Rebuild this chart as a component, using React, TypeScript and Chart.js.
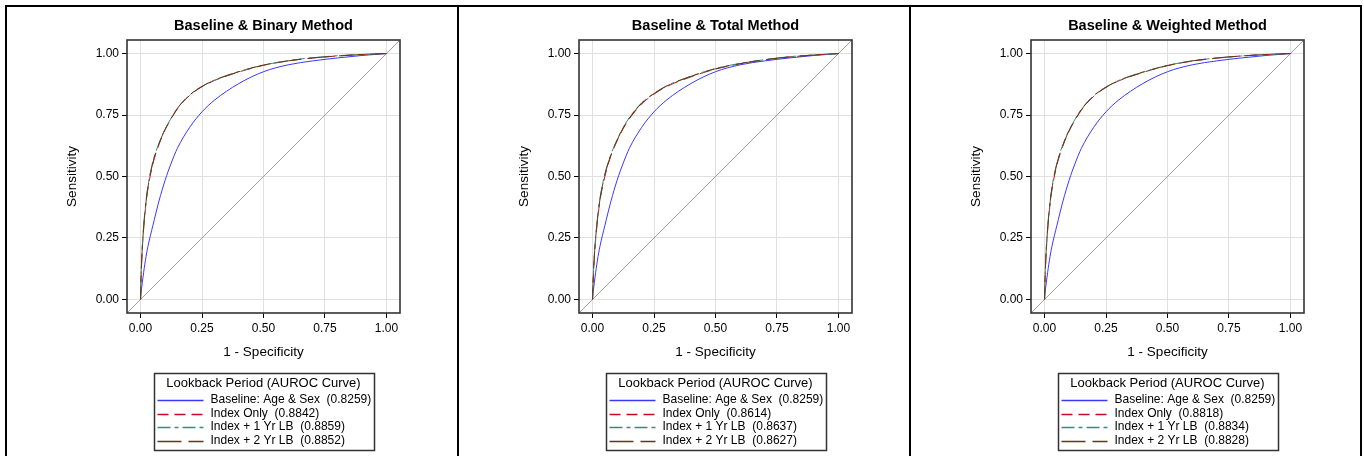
import React, { useEffect, useRef } from "react";
import { Chart, registerables } from "chart.js";

Chart.register(...registerables);

// ---------------- data ----------------
const FPR = [0, 0.002, 0.005, 0.01, 0.02, 0.03, 0.05, 0.075, 0.1, 0.125, 0.15, 0.2, 0.25, 0.3, 0.4, 0.5, 0.6, 0.7, 0.8, 0.9, 1];

const BASELINE_TPR = [0, 0.025, 0.05, 0.09, 0.16, 0.215, 0.3, 0.4, 0.485, 0.555, 0.615, 0.7, 0.763, 0.81, 0.878, 0.926, 0.954, 0.97, 0.982, 0.992, 1];

const BINARY_INDEX = [0, 0.08, 0.16, 0.25, 0.37, 0.45, 0.55, 0.63, 0.69, 0.735, 0.775, 0.83, 0.865, 0.89, 0.925, 0.952, 0.97, 0.982, 0.99, 0.996, 1];
const BINARY_1YR = [0, 0.09, 0.17, 0.26, 0.38, 0.46, 0.56, 0.635, 0.693, 0.738, 0.778, 0.832, 0.867, 0.892, 0.927, 0.953, 0.971, 0.983, 0.991, 0.996, 1];
const BINARY_2YR = [0, 0.085, 0.165, 0.255, 0.375, 0.455, 0.555, 0.633, 0.692, 0.737, 0.777, 0.831, 0.866, 0.891, 0.926, 0.953, 0.97, 0.982, 0.99, 0.996, 1];

const TOTAL_INDEX = [0, 0.06, 0.13, 0.21, 0.32, 0.4, 0.5, 0.585, 0.645, 0.695, 0.735, 0.795, 0.835, 0.865, 0.905, 0.937, 0.958, 0.974, 0.986, 0.994, 1];
const TOTAL_1YR = [0, 0.07, 0.14, 0.22, 0.33, 0.41, 0.51, 0.59, 0.65, 0.7, 0.74, 0.8, 0.838, 0.868, 0.908, 0.939, 0.96, 0.975, 0.987, 0.994, 1];
const TOTAL_2YR = [0, 0.065, 0.135, 0.215, 0.325, 0.405, 0.505, 0.588, 0.648, 0.698, 0.738, 0.798, 0.837, 0.867, 0.907, 0.938, 0.959, 0.975, 0.986, 0.994, 1];

const WEIGHTED_INDEX = [0, 0.08, 0.155, 0.245, 0.365, 0.445, 0.545, 0.625, 0.685, 0.73, 0.77, 0.826, 0.862, 0.888, 0.923, 0.951, 0.969, 0.981, 0.99, 0.996, 1];
const WEIGHTED_1YR = [0, 0.085, 0.165, 0.255, 0.375, 0.455, 0.553, 0.63, 0.689, 0.734, 0.774, 0.829, 0.864, 0.89, 0.925, 0.952, 0.97, 0.982, 0.99, 0.996, 1];
const WEIGHTED_2YR = [0, 0.082, 0.16, 0.25, 0.37, 0.45, 0.55, 0.628, 0.687, 0.732, 0.772, 0.828, 0.863, 0.889, 0.924, 0.951, 0.97, 0.982, 0.99, 0.996, 1];

const SERIES_NAMES = ["Baseline: Age & Sex", "Index Only", "Index + 1 Yr LB", "Index + 2 Yr LB"];
const BINARY_AUC = [0.8259, 0.8842, 0.8859, 0.8852];
const TOTAL_AUC = [0.8259, 0.8614, 0.8637, 0.8627];
const WEIGHTED_AUC = [0.8259, 0.8818, 0.8834, 0.8828];

const PANEL_TITLES = ["Baseline & Binary Method", "Baseline & Total Method", "Baseline & Weighted Method"];
const TICK_VALUES = [0, 0.25, 0.5, 0.75, 1];
const AXIS_MIN = -0.055;
const AXIS_MAX = 1.055;
const DIAGONAL = [AXIS_MIN, AXIS_MAX];
const LEGEND_TITLE = "Lookback Period (AUROC Curve)";
const X_TITLE = "1 - Specificity";
const Y_TITLE = "Sensitivity";

// ---------------- styles ----------------
const SERIES_STYLES = [
  { color: "#3838ff", dash: [] as number[] },
  { color: "#cc0a1e", dash: [11, 6] },
  { color: "#2f8f7c", dash: [13, 4, 4, 4] },
  { color: "#5e3b12", dash: [24, 7] },
];
const FONT = '"Liberation Sans", Arial, Helvetica, sans-serif';

const CANVAS_W = 452;
const CANVAS_H = 450;

function Panel({ title, curves, aucs, left }: { title: string; curves: number[][]; aucs: number[]; left: number }) {
  const ref = useRef<HTMLCanvasElement | null>(null);
  useEffect(() => {
    if (!ref.current) return;
    const datasets: any[] = curves.map((tpr, i) => ({
      label: `${SERIES_NAMES[i]}  (${aucs[i].toFixed(4)})`,
      data: FPR.map((x, j) => ({ x, y: tpr[j] })),
      borderColor: SERIES_STYLES[i].color,
      borderDash: SERIES_STYLES[i].dash,
      borderWidth: 1,
      pointRadius: 0,
      fill: false,
      cubicInterpolationMode: "monotone",
      order: 10 - i,
    }));
    datasets.push({
      label: "diag",
      data: DIAGONAL.map((v) => ({ x: v, y: v })),
      borderColor: "#a0a0a0",
      borderWidth: 1,
      pointRadius: 0,
      fill: false,
      order: 20,
    });

    const decor = {
      id: "decor",
      afterDraw(chart: any) {
        const { ctx, chartArea: a } = chart;
        ctx.save();
        // frame
        ctx.setLineDash([]);
        ctx.strokeStyle = "#333";
        ctx.lineWidth = 1.6;
        ctx.strokeRect(a.left, a.top, a.right - a.left, a.bottom - a.top);
        // title
        const cx = (a.left + a.right) / 2;
        ctx.fillStyle = "#000";
        ctx.font = `bold 14.5px ${FONT}`;
        ctx.textAlign = "center";
        ctx.textBaseline = "middle";
        ctx.fillText(title, cx, a.top - 14.3);
        // legend box
        const bw = 220;
        const bh = 77;
        const bx = Math.round(cx - bw / 2) + 0.5;
        const by = Math.round(a.bottom + 60) + 0.5;
        ctx.fillStyle = "#fff";
        ctx.fillRect(bx, by, bw, bh);
        ctx.strokeStyle = "#333";
        ctx.lineWidth = 1.5;
        ctx.strokeRect(bx, by, bw, bh);
        ctx.fillStyle = "#000";
        ctx.font = `13px ${FONT}`;
        ctx.textAlign = "center";
        ctx.fillText(LEGEND_TITLE, cx, by + 10);
        ctx.font = `12px ${FONT}`;
        ctx.textAlign = "left";
        const rowYs = [26.6, 40, 53.3, 67.3];
        chart.data.datasets.slice(0, 4).forEach((ds: any, i: number) => {
          const y = by + rowYs[i];
          ctx.strokeStyle = ds.borderColor;
          ctx.lineWidth = 1.5;
          ctx.setLineDash(ds.borderDash || []);
          ctx.beginPath();
          ctx.moveTo(bx + 3, Math.round(y) + 0.5);
          ctx.lineTo(bx + 49, Math.round(y) + 0.5);
          ctx.stroke();
          ctx.setLineDash([]);
          ctx.fillStyle = "#000";
          ctx.fillText(ds.label, bx + 56, y);
        });
        ctx.restore();
      },
    };

    const axisCommon = (titleText: string) => ({
      type: "linear" as const,
      min: AXIS_MIN,
      max: AXIS_MAX,
      afterBuildTicks: (scale: any) => {
        scale.ticks = TICK_VALUES.map((v) => ({ value: v }));
      },
      ticks: {
        callback: (v: any) => Number(v).toFixed(2),
        color: "#000",
        font: { family: FONT, size: 12 },
        padding: 3,
        autoSkip: false,
        maxRotation: 0,
      },
      grid: {
        color: "#e0e0e0",
        lineWidth: 1,
        tickColor: "#000",
        tickLength: 5,
        drawTicks: true,
      },
      border: { display: false },
      title: {
        display: true,
        text: titleText,
        color: "#000",
        font: { family: FONT, size: 13.5 },
        padding: 0,
      },
    });

    const chart = new Chart(ref.current, {
      type: "line",
      data: { datasets },
      options: {
        animation: false,
        responsive: false,
        parsing: false as any,
        normalized: true,
        layout: { padding: { left: 58, top: 34, right: 58, bottom: 96 } },
        plugins: {
          legend: { display: false },
          title: { display: false },
          tooltip: { enabled: false },
        },
        scales: {
          x: { ...axisCommon(X_TITLE), position: "bottom", afterFit: (s: any) => { s.height = 47; } },
          y: { ...axisCommon(Y_TITLE), position: "left", afterFit: (s: any) => { s.width = 63; } },
        },
      } as any,
      plugins: [decor],
    });
    return () => chart.destroy();
  }, [title, curves, aucs]);

  return (
    <canvas
      ref={ref}
      width={CANVAS_W}
      height={CANVAS_H}
      style={{ position: "absolute", left, top: 6, width: CANVAS_W, height: CANVAS_H }}
    />
  );
}

const PANELS = [
  { title: PANEL_TITLES[0], curves: [BASELINE_TPR, BINARY_INDEX, BINARY_1YR, BINARY_2YR], aucs: BINARY_AUC, left: 6 },
  { title: PANEL_TITLES[1], curves: [BASELINE_TPR, TOTAL_INDEX, TOTAL_1YR, TOTAL_2YR], aucs: TOTAL_AUC, left: 458 },
  { title: PANEL_TITLES[2], curves: [BASELINE_TPR, WEIGHTED_INDEX, WEIGHTED_1YR, WEIGHTED_2YR], aucs: WEIGHTED_AUC, left: 910 },
];

export default function App() {
  return (
    <div style={{ position: "absolute", left: 0, top: 0, width: 1364, height: 456, overflow: "hidden", background: "#fff" }}>
      <div style={{ position: "absolute", left: 5, top: 5, width: 1353, height: 470, border: "2px solid #000" }} />
      <div style={{ position: "absolute", left: 457, top: 5, width: 2, height: 470, background: "#000" }} />
      <div style={{ position: "absolute", left: 909, top: 5, width: 2, height: 470, background: "#000" }} />
      {PANELS.map((p) => (
        <Panel key={p.title} title={p.title} curves={p.curves} aucs={p.aucs} left={p.left} />
      ))}
    </div>
  );
}
